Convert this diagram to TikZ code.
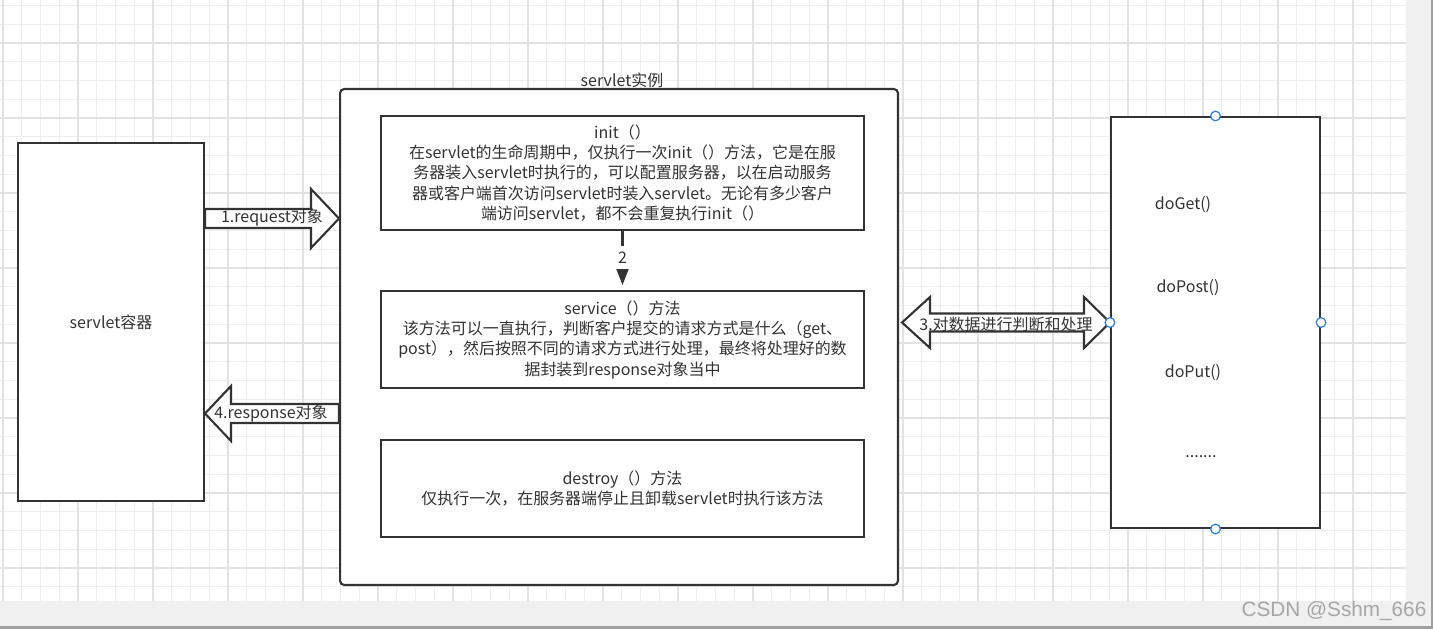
\documentclass[tikz,border=0pt]{standalone}
\usepackage{fontspec}
\usepackage{tikz}
\usetikzlibrary{arrows.meta, positioning}
\newfontfamily\cjk{Noto Sans CJK SC}
\newfontfamily\wmfont{Liberation Sans}
\definecolor{inkgray}{RGB}{51,51,51}
\definecolor{gridminor}{RGB}{238,238,238}
\definecolor{gridmajor}{RGB}{226,226,226}
\definecolor{panelgray}{RGB}{240,240,240}
\definecolor{edgegray}{RGB}{160,160,160}
\definecolor{handleblue}{RGB}{41,128,230}

\begin{document}
\begin{tikzpicture}[x=0.02cm, y=-0.02cm,
  txt/.style={font=\cjk\fontsize{9.1}{11.6}\selectfont, text=inkgray, inner sep=0pt},
  box/.style={rectangle, draw=inkgray, line width=1.2pt, fill=white, txt, align=center},
  blk/.style={draw=inkgray, line width=1.2pt, fill=white, line join=miter},
  flow/.style={-{Triangle[length=9.5pt, width=7pt]}, draw=inkgray, line width=1.2pt, shorten >=2.8pt},
  handle/.style={circle, draw=handleblue, fill=white, line width=0.7pt, inner sep=0pt, minimum size=5.5pt}
]
\useasboundingbox (0,0) rectangle (1433,629);

% canvas grid
\fill[white] (0,0) rectangle (1406,601);
\foreach \i in {0,...,74} \draw[gridminor, line width=0.57pt] (3+18.75*\i,0) -- (3+18.75*\i,601);
\foreach \j in {0,...,31} \draw[gridminor, line width=0.57pt] (0,5.5+18.75*\j) -- (1406,5.5+18.75*\j);
\foreach \i in {0,...,18} \draw[gridmajor, line width=0.6pt] (3+75*\i,0) -- (3+75*\i,601);
\foreach \j in {0,...,7} \draw[gridmajor, line width=0.6pt] (0,43+75*\j) -- (1406,43+75*\j);
\fill[panelgray] (1406,0) rectangle (1433,629);
\fill[panelgray] (0,601) rectangle (1433,629);
\fill[edgegray] (1431,0) rectangle (1433,629);
\fill[edgegray] (0,626) rectangle (1433,629);
\node[font=\wmfont\fontsize{11.8}{14}\selectfont, text=black!35, inner sep=0pt] (mark) at (1334,611) {CSDN @Sshm\_666};

% container and servlet instance
\node[box, minimum width=3.72cm, minimum height=7.16cm] (ctr) at (111,322) {servlet容器};
\node[box, rounded corners=2.3pt, minimum width=11.16cm, minimum height=9.92cm] (inst) at (619,337) {};
\node[txt] (insttitle) at (622,80) {servlet实例};

\node[box, minimum width=9.66cm, minimum height=2.28cm] (init) at (622.5,173)
  {init（）\\
   在servlet的生命周期中，仅执行一次init（）方法，它是在服\\
   务器装入servlet时执行的，可以配置服务器，以在启动服务\\
   器或客户端首次访问servlet时装入servlet。无论有多少客户\\
   端访问servlet，都不会重复执行init（）};
\node[box, minimum width=9.66cm, minimum height=1.94cm, below=1.18cm of init] (service)
  {service（）方法\\
   该方法可以一直执行，判断客户提交的请求方式是什么（get、\\
   post），然后按照不同的请求方式进行处理，最终将处理好的数\\
   据封装到response对象当中};
\node[box, minimum width=9.66cm, minimum height=1.94cm, below=1.0cm of service] (destroy)
  {destroy（）方法\\
   仅执行一次，在服务器端停止且卸载servlet时执行该方法};

\draw[flow] (init.south) -- (service.north)
  node[txt, pos=0.45, fill=white, minimum height=13pt, minimum width=8pt] (step2) {2};

% doXxx methods
\node[box, minimum width=4.18cm, minimum height=8.22cm] (dos) at (1215.5,322.5) {};
\node[txt] (get) at (1183,205) {doGet()};
\node[txt] (post) at (1188,288) {doPost()};
\node[txt] (put) at (1193,373) {doPut()};
\node[txt, anchor=base] (more) at (1201,457) {.......};

% block arrows
\draw[blk] (ctr.east |- 0,209) -- (311,209) -- (311,189) -- (inst.west |- 0,218.5)
  -- (311,248) -- (311,228) -- (ctr.east |- 0,228) -- cycle;
\node[txt] (reqlbl) at (272,218) {1.request对象};

\draw[blk] (inst.west |- 0,404) -- (231,404) -- (231,386) -- (ctr.east |- 0,413.5)
  -- (231,441) -- (231,423) -- (inst.west |- 0,423) -- cycle;
\node[txt] (resplbl) at (271,414) {4.response对象};

\coordinate (dbltip) at (902,322.5);
\draw[blk] (dbltip) -- (930,297) -- (930,313.5) -- (1084,313.5) -- (1084,297) -- (dos.west)
  -- (1084,348) -- (1084,331.5) -- (930,331.5) -- (930,348) -- cycle;
\node[txt] (dbllbl) at (1006,324) {3.对数据进行判断和处理};

\foreach \a in {north, south, east, west} \node[handle] (h-\a) at (dos.\a) {};
\end{tikzpicture}
\end{document}
